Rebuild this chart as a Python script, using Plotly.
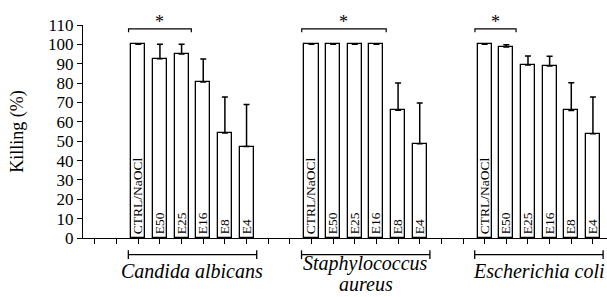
import plotly.graph_objects as go

groups = ["Candida albicans", "Staphylococcus aureus", "Escherichia coli"]
treatments = ["CTRL/NaOCl", "E50", "E25", "E16", "E8", "E4"]
killing_candida = [100, 92.6, 95.0, 80.5, 54.2, 47.2]
error_candida = [0, 7.4, 5.0, 12.0, 18.6, 21.8]
killing_staph = [100, 100, 100, 100, 66.0, 48.7]
error_staph = [0, 0, 0, 0, 14.0, 21.0]
killing_ecoli = [100, 98.6, 89.3, 88.8, 65.9, 53.9]
error_ecoli = [0, 1.2, 4.7, 5.0, 14.3, 18.9]
significant_count = [3, 4, 2]   # bars under the "*" bracket in each group
wrap_label = [False, True, False]
y_ticks = list(range(0, 111, 10))

killing = [killing_candida, killing_staph, killing_ecoli]
errors = [error_candida, error_staph, error_ecoli]

FONT = "Liberation Serif"
GAP = 2                      # empty category slots before each group
slot = GAP + len(treatments)
n_slots = slot * len(groups)

fig = go.Figure()
for g, name in enumerate(groups):
    xs = [g * slot + GAP + t for t in range(len(treatments))]
    fig.add_trace(go.Bar(
        x=xs, y=killing[g], width=0.65,
        marker=dict(color="white", line=dict(color="black", width=1.3)),
        text=treatments, textposition="inside", insidetextanchor="start",
        textangle=-90, constraintext="none",
        insidetextfont=dict(family=FONT, size=13.5, color="black"),
        error_y=dict(type="data", symmetric=False, array=errors[g],
                     arrayminus=[0] * len(treatments),
                     color="black", thickness=1.5, width=3),
        showlegend=False, hoverinfo="skip",
    ))
    # significance bracket
    x0 = xs[0] - 0.45
    x1 = xs[significant_count[g] - 1] + 0.45
    fig.add_shape(type="path", xref="x", yref="y",
                  path=f"M{x0},106.2 L{x0},108 L{x1},108 L{x1},106.2",
                  line=dict(color="black", width=1.2))
    fig.add_annotation(x=(x0 + x1) / 2, y=108, xref="x", yref="y",
                       text="*", showarrow=False, yanchor="bottom", yshift=-5,
                       font=dict(family=FONT, size=18, color="black"))
    # group bracket under axis
    gx0 = xs[0] - 0.46
    gx1 = xs[-1] + 0.47
    fig.add_shape(type="line", xref="x", yref="paper", x0=gx0, x1=gx1,
                  y0=-0.078, y1=-0.078, line=dict(color="black", width=1.3))
    for gx in (gx0, gx1):
        fig.add_shape(type="line", xref="x", yref="paper", x0=gx, x1=gx,
                      y0=-0.058, y1=-0.099, line=dict(color="black", width=1.3))
    lines = name.split(" ") if wrap_label[g] else [name]
    for i, line in enumerate(lines):
        fig.add_annotation(x=(xs[0] + xs[-1]) / 2, y=-0.156, xref="x", yref="paper",
                           text=f"<i>{line}</i>", showarrow=False, yanchor="middle",
                           yshift=(8 if len(lines) > 1 else 0) - 21 * i,
                           font=dict(family=FONT, size=20, color="black"))

fig.update_layout(
    width=607, height=297,
    margin=dict(l=83, r=0, t=25, b=59, autoexpand=False),
    plot_bgcolor="white", paper_bgcolor="white",
    font=dict(family=FONT, color="black"),
    bargap=0,
    xaxis=dict(range=[-0.554, n_slots - 0.35], tickmode="array",
               tickvals=list(range(n_slots)), showticklabels=False,
               ticks="outside", ticklen=5, tickwidth=1.3, tickcolor="black",
               showline=True, linecolor="black", linewidth=1.3,
               showgrid=False, zeroline=False),
    yaxis=dict(range=[0, 110], tickmode="array", tickvals=y_ticks,
               ticks="outside", ticklen=5, tickwidth=1.3, tickcolor="black",
               showline=True, linecolor="black", linewidth=1.3,
               showgrid=False, zeroline=False,
               tickfont=dict(family=FONT, size=17, color="black"),
               title=dict(text="Killing (%)", standoff=19,
                          font=dict(family=FONT, size=18, color="black"))),
)

fig.write_html("out.html",
               config={"displayModeBar": False},
               post_script="document.body.style.margin='0';"
                           "document.body.style.overflow='hidden';")
